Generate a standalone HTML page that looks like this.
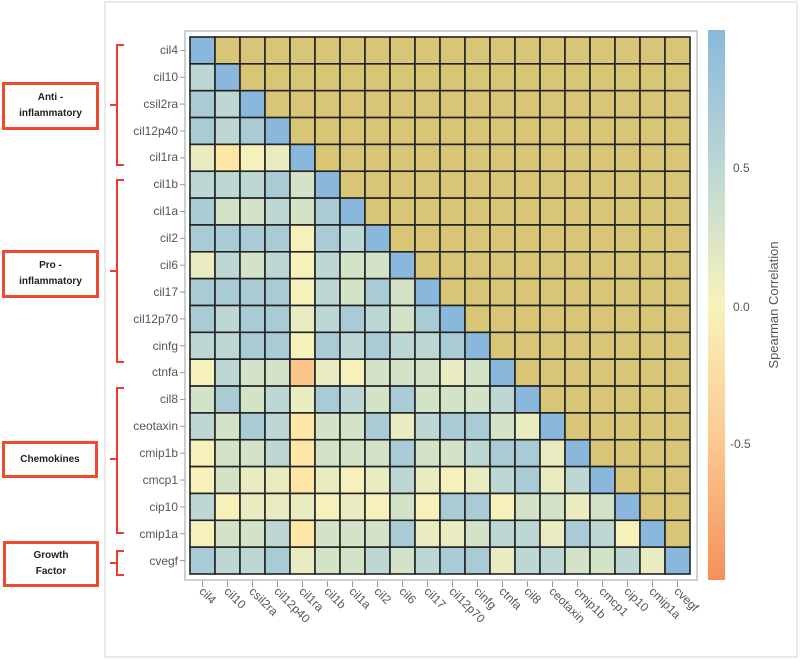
<!DOCTYPE html>
<html><head><meta charset="utf-8"><style>
html,body{margin:0;padding:0;background:#fff;}
body{width:800px;height:661px;overflow:hidden;position:relative;font-family:"Liberation Sans",sans-serif;}
.box{position:absolute;border:3px solid #f04a2e;box-sizing:border-box;display:flex;align-items:center;justify-content:center;text-align:center;font-size:10px;font-weight:bold;color:#222;line-height:16px;}
</style></head><body>
<div class="box" style="left:2px;top:82px;width:97px;height:48px;">Anti -<br>inflammatory</div>
<div class="box" style="left:2px;top:250px;width:97px;height:48px;">Pro -<br>inflammatory</div>
<div class="box" style="left:2px;top:441px;width:96px;height:37px;">Chemokines</div>
<div class="box" style="left:3px;top:541px;width:96px;height:46px;">Growth<br>Factor</div>
<svg id="s" width="800" height="661" style="position:absolute;left:0;top:0" font-family="Liberation Sans, sans-serif">
<defs><linearGradient id="cb" x1="0" y1="0" x2="0" y2="1">
<stop offset="0" stop-color="#8ab8dc"/><stop offset="0.25" stop-color="#bcd7d4"/><stop offset="0.5" stop-color="#f8f2bc"/><stop offset="0.75" stop-color="#fcc890"/><stop offset="1" stop-color="#f4905a"/></linearGradient></defs>
<rect x="105" y="2" width="692" height="655" fill="none" stroke="#d6d6d6"/>
<rect x="185" y="31" width="512" height="549" fill="none" stroke="#cfcfcf" stroke-width="2"/>
<g id="cells"></g>
<g fill="none" stroke="#f03a2a" stroke-width="2">
<path d="M124,45 H117 V165 H124 M117,105 H110"/>
<path d="M124,180 H117 V362 H124 M117,271 H110"/>
<path d="M124,388 H117 V533 H124 M117,459 H110"/>
<path d="M124,551 H117 V575 H124 M117,563 H110"/>
</g>
<rect x="708" y="30" width="17" height="550" fill="url(#cb)"/>
<g font-size="12" fill="#555">
<text x="733" y="172">0.5</text><text x="733" y="311">0.0</text><text x="730" y="448">-0.5</text>
<text transform="translate(778,305) rotate(-90)" text-anchor="middle" font-size="13">Spearman Correlation</text>
</g>
<g id="yl" font-size="12" fill="#555" text-anchor="end">
<text x="178" y="54">cil4</text><text x="178" y="81">cil10</text><text x="178" y="108">csil2ra</text><text x="178" y="135">cil12p40</text><text x="178" y="161">cil1ra</text><text x="178" y="188">cil1b</text><text x="178" y="215">cil1a</text><text x="178" y="242">cil2</text><text x="178" y="269">cil6</text><text x="178" y="296">cil17</text><text x="178" y="323">cil12p70</text><text x="178" y="350">cinfg</text><text x="178" y="376">ctnfa</text><text x="178" y="403">cil8</text><text x="178" y="430">ceotaxin</text><text x="178" y="457">cmip1b</text><text x="178" y="484">cmcp1</text><text x="178" y="511">cip10</text><text x="178" y="538">cmip1a</text><text x="178" y="565">cvegf</text>
</g>
<g id="xl" font-size="12" fill="#555"></g>
<g id="tk" stroke="#999"></g>
</svg>
<script>
var C={B:"#8ab8dc",b1:"#a9cbd6",b2:"#bcd7d4",g:"#d3e3c8",y1:"#e8ecc0",y2:"#f6f0bb",y3:"#fde6a6",o:"#fbc58c",U:"#d8c676"};
var L=[[],["b2"],["b1","b2"],["b1","b2","b1"],["y1","y3","y2","y1"],
["b2","b2","b2","b1","g"],
["b1","g","g","b2","g","b1"],
["b1","b1","b1","b1","y2","b1","b2"],
["y1","b2","g","b2","y2","b2","g","g"],
["b1","b1","b1","b1","y2","b2","g","b1","g"],
["b1","b2","b1","b1","y1","b2","b1","b2","g","b1"],
["b2","b2","b1","b1","y2","b1","b2","b1","b2","b2","b1"],
["y2","b2","g","g","o","y1","y2","g","g","g","y1","g"],
["g","b1","g","b2","y1","b1","b2","g","b1","g","g","g","b2"],
["b2","g","b1","b2","y3","g","g","b1","y1","b2","b1","b1","g","y1"],
["y2","g","g","b2","y3","g","g","g","b1","g","g","b2","b1","b1","y1"],
["y2","g","y1","y1","y3","y1","y2","y1","b2","y1","y2","y1","b2","b1","y1","b2"],
["b2","y2","y1","y1","y1","y2","y1","y2","g","y2","b1","b1","y2","g","g","y1","g"],
["y2","g","g","b2","y3","g","g","g","b1","y1","y1","g","b2","b2","y1","b1","b2","y2"],
["b1","b2","b2","b1","y1","g","g","b2","g","b2","b1","b1","y1","b2","b2","g","g","b2","y1"]];
var names=["cil4","cil10","csil2ra","cil12p40","cil1ra","cil1b","cil1a","cil2","cil6","cil17","cil12p70","cinfg","ctnfa","cil8","ceotaxin","cmip1b","cmcp1","cip10","cmip1a","cvegf"];
var ns="http://www.w3.org/2000/svg",g=document.getElementById("cells"),x0=190,y0=37,w=25,h=26.85;
for(var i=0;i<20;i++)for(var j=0;j<20;j++){var c=j>i?C.U:(j==i?C.B:C[L[i][j]]);
var r=document.createElementNS(ns,"rect");r.setAttribute("x",x0+j*w);r.setAttribute("y",y0+i*h);r.setAttribute("width",w);r.setAttribute("height",h);r.setAttribute("fill",c);r.setAttribute("stroke","#222");r.setAttribute("stroke-width","1.6");g.appendChild(r);}
var xl=document.getElementById("xl"),tk=document.getElementById("tk");
for(var k=0;k<20;k++){var cx=x0+k*w+w/2,cy=y0+k*h+h/2;
var t=document.createElementNS(ns,"text");t.setAttribute("transform","translate("+(cx-4)+",592) rotate(45)");t.textContent=names[k];xl.appendChild(t);
var l=document.createElementNS(ns,"line");l.setAttribute("x1",cx);l.setAttribute("x2",cx);l.setAttribute("y1",581);l.setAttribute("y2",587);tk.appendChild(l);
var l2=document.createElementNS(ns,"line");l2.setAttribute("x1",180);l2.setAttribute("x2",185);l2.setAttribute("y1",cy);l2.setAttribute("y2",cy);tk.appendChild(l2);}
</script>
</body></html>
